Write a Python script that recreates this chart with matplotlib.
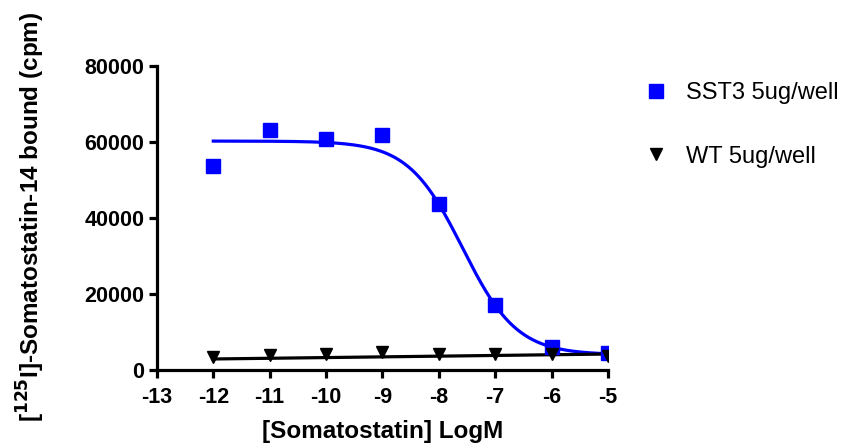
import matplotlib.pyplot as plt
import numpy as np

plt.rcParams['font.family'] = ['Liberation Sans', 'DejaVu Sans']
plt.rcParams['axes.unicode_minus'] = False

log_conc = [-12, -11, -10, -9, -8, -7, -6, -5]
sst3 = [53700, 63200, 60800, 61800, 43700, 17100, 6000, 4500]
wt = [3400, 3900, 4200, 4700, 4200, 4300, 4300, 3800]

# fitted curve parameters
sst3_top, sst3_bottom, sst3_logic50, sst3_hill = 60300, 4000, -7.58, 0.9
wt_start, wt_end = 2900, 4200

fig = plt.figure(figsize=(8.48, 4.44), dpi=100)
ax = fig.add_axes([0.185, 0.1667, 0.532, 0.684])

xx = np.linspace(-12, -5, 300)
fit = sst3_bottom + (sst3_top - sst3_bottom) / (1 + 10 ** ((xx - sst3_logic50) * sst3_hill))
ax.plot(xx, fit, color='#0000ff', lw=2.3, zorder=2)
ax.plot([-12, -5], [wt_start, wt_end], color='black', lw=2.3, zorder=2)

ax.plot(log_conc, sst3, 's', color='#0000ff', ms=9.5, ls='none', label='SST3 5ug/well', zorder=3)
ax.plot(log_conc, wt, 'v', color='black', ms=8, ls='none', label='WT 5ug/well', zorder=3)

ax.set_xlim(-13, -5)
ax.set_ylim(0, 80000)
ax.set_xticks(range(-13, -4))
ax.set_yticks(range(0, 80001, 20000))
for s in ['top', 'right']:
    ax.spines[s].set_visible(False)
for s in ['left', 'bottom']:
    ax.spines[s].set_linewidth(2.3)
ax.tick_params(width=2.3, length=6, labelsize=15.5, pad=3)
ax.tick_params(axis='x', pad=6)
for lab in ax.get_xticklabels() + ax.get_yticklabels():
    lab.set_fontweight('bold')

ax.set_xlabel('[Somatostatin] LogM', fontsize=17.5, fontweight='bold', labelpad=9)
fig.text(0.036, 0.511, r'[$^{\mathbf{125}}$I]-Somatostatin-14 bound (cpm)', rotation=90,
         fontsize=17.5, fontweight='bold', ha='center', va='center')

ax.legend(loc='upper left', bbox_to_anchor=(1.03, 1.017), frameon=False, fontsize=17,
          labelspacing=1.75, handletextpad=0.75, handlelength=1.1)

fig.savefig('out.png', dpi=100)
